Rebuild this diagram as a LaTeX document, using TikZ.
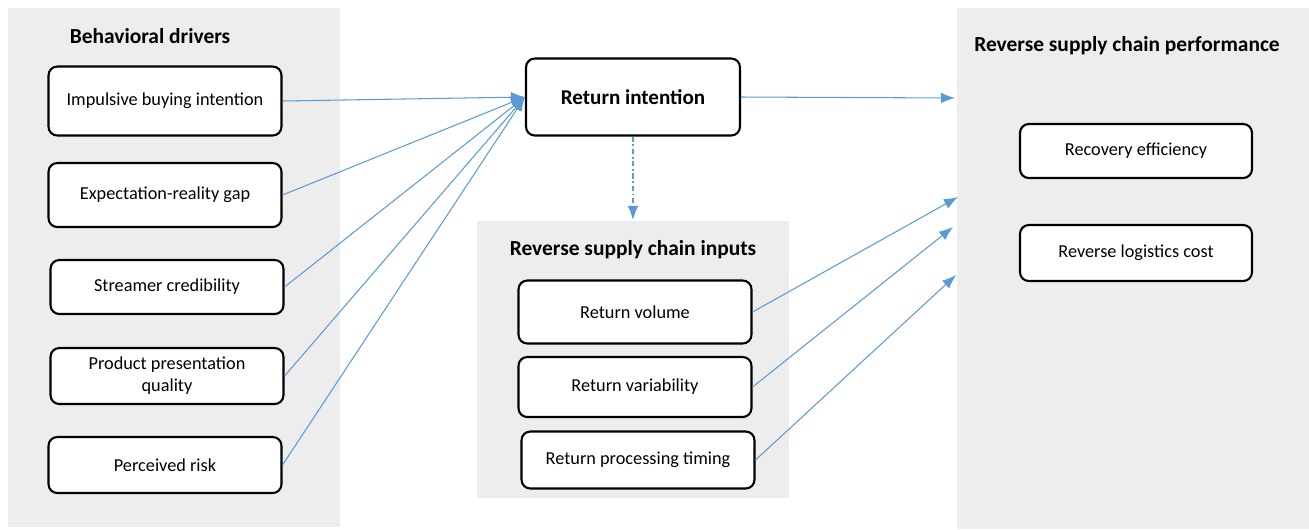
\documentclass[tikz,border=0pt]{standalone}
\usepackage{fontspec}
\setmainfont{Carlito}
\usetikzlibrary{arrows.meta}
\definecolor{linkblue}{HTML}{5B9BD5}
\definecolor{panelgray}{HTML}{EDEDED}
\tikzset{
    box/.style={rectangle,rounded corners=5pt,draw,line width=1.2pt,fill=white,minimum width=4.66cm,align=center,font=\fontsize{10.4}{12.5}\selectfont},
    heading/.style={font=\bfseries\fontsize{12.2}{14}\selectfont},
    edge/.style={-{Latex[length=8pt,width=6pt]},draw=linkblue,line width=0.6pt}
}

\begin{document}
\begin{tikzpicture}[x=0.02cm,y=-0.02cm]
                        \useasboundingbox (0,0) rectangle (1309,529);
                        % panels
                            \fill[panelgray] (8,8) rectangle (340,527);
                            \fill[panelgray] (477,221) rectangle (789,498);
                            \fill[panelgray] (957,8) rectangle (1309,529);
                            \node[heading] (drivers) at (150,36) {Behavioral drivers};
                            \node[heading] (inputs) at (633,250) {Reverse supply chain inputs};
                            \node[heading] (perf) at (1127,46) {Reverse supply chain performance};
                        % vertices
                            \node[box,minimum height=1.38cm] (impulse) at (165,101) {Impulsive buying intention};
                            \node[box,minimum height=1.28cm] (gap) at (165,195) {Expectation-reality gap};
                            \node[box,minimum height=1.08cm] (cred) at (167,287) {Streamer credibility};
                            \node[box,minimum height=1.12cm] (present) at (167,376) {Product presentation\\quality};
                            \node[box,minimum height=1.12cm] (risk) at (165,465) {Perceived risk};
                            \node[box,minimum width=4.28cm,minimum height=1.54cm,font=\bfseries\fontsize{12}{15}\selectfont] (intent) at (633,97) {Return intention};
                            \node[box,minimum height=1.26cm] (volume) at (635,312) {Return volume};
                            \node[box,minimum height=1.2cm] (var) at (635,387) {Return variability};
                            \node[box,minimum height=1.14cm] (timing) at (638,460) {Return processing timing};
                            \node[box,minimum width=4.64cm,minimum height=1.08cm] (recovery) at (1136,151) {Recovery efficiency};
                            \node[box,minimum width=4.64cm,minimum height=1.12cm] (cost) at (1136,253) {Reverse logistics cost};
                            \coordinate (p1) at (955,98);
                            \coordinate (p2) at (958,197);
                            \coordinate (p3) at (953,227);
                            \coordinate (p4) at (956,275);
                            \coordinate (p5) at (633,220);
                        %edges
                        \draw[edge] (impulse.east) -- (intent.west);
                        \draw[edge] (gap.east) -- (intent.west);
                        \draw[edge] (cred.east) -- (intent.west);
                        \draw[edge] (present.east) -- (intent.west);
                        \draw[edge] (risk.east) -- (intent.west);
                        \draw[edge] (intent.east) -- (p1);
                        \draw[edge,dash pattern=on 3pt off 1.5pt on 1pt off 1.5pt] (intent.south) -- (p5);
                        \draw[edge] (volume.east) -- (p2);
                        \draw[edge] (var.east) -- (p3);
                        \draw[edge] (timing.east) -- (p4);
                        \end{tikzpicture}
\end{document}
